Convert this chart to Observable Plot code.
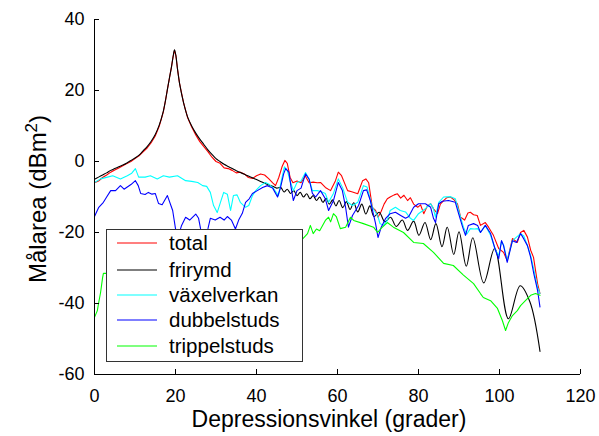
<!DOCTYPE html>
<html><head><meta charset="utf-8">
<script src="https://cdn.jsdelivr.net/npm/d3@7"></script>
<script src="https://cdn.jsdelivr.net/npm/@observablehq/plot@0.6"></script>
<style>
body{margin:0;background:#fff}
svg{font-family: Arial, "Liberation Sans", sans-serif}
</style>
</head><body><div id="chart"></div>
<script>
const seriesNames = ["total","frirymd","växelverkan","dubbelstuds","trippelstuds"];
const seriesColors = ["#ff0000","#000000","#00ffff","#0000ff","#00ff00"];
const xTicks = [0,20,40,60,80,100,120];
const yTicks = [-60,-40,-20,0,20,40];

const total = [[0,-6],[1,-5.5],[2,-4.5],[3,-3.8],[4,-3],[5,-2.4],[6,-1.8],[7,-1.2],[8,-0.6],[9,0],[10,0.8],[11,1.6],[12,2.7],[13,3.8],[14,5.3],[15,7.2],[16,10],[17,14],[17.5,17],[18,20.3],[18.5,23.5],[19,26.6],[19.4,29.5],[19.75,31.3],[20.1,29.8],[20.5,26],[21,22],[22,16.5],[23,12.3],[24,9.7],[25,7.5],[26,5.6],[27,4.2],[28,2.8],[29,1.2],[30,0],[31,-0.5],[32,-1.8],[33,-2],[34,-2.5],[35,-3.2],[36,-3],[37,-3.5],[38,-4.5],[39,-4.8],[40,-4],[41,-3.5],[42,-3.8],[43,-4.8],[44,-6],[44.7,-6.8],[45.5,-4.5],[46.3,-1.5],[47,0.3],[47.6,-0.5],[48.3,-4.5],[49,-6],[50,-5.5],[51,-6],[52,-4],[53,-6],[54,-5.8],[55,-6],[55.8,-5.9],[57,-7.3],[58.3,-8.2],[59.5,-5.4],[60.2,-3],[61,-4],[62.5,-8.2],[63.5,-8.5],[65,-9.1],[66.2,-5.4],[67,-4.9],[67.7,-6],[68.6,-12.9],[69.4,-13.8],[70,-15.7],[70.8,-14],[71.5,-12],[72.3,-10.5],[73,-10],[74,-9.4],[74.8,-9.1],[75.6,-10.3],[76.4,-9.5],[77.3,-11],[78,-10.2],[78.8,-12],[79.8,-12.9],[80.5,-12.2],[81.3,-14.7],[82.2,-12.5],[83,-11.9],[83.8,-13.5],[84.7,-14.7],[85.4,-12],[86.2,-11],[87,-10.2],[87.9,-10],[88.8,-10.8],[89.6,-11.9],[90.4,-15.7],[91.4,-16.5],[92.2,-14.5],[92.8,-14.3],[93.6,-15],[94.5,-15.2],[95.3,-18],[96.5,-17.2],[97.3,-18.5],[98.5,-20.8],[99.8,-24.5],[101,-25.6],[101.9,-27.9],[103.2,-21.7],[104.4,-22.8],[105.2,-20],[106,-19.4],[106.9,-21.3],[107.7,-25],[108.4,-27],[109.4,-34.4],[110,-37.2]];

const frirymd = [[0,-5],[1,-4.4],[2,-3.8],[3,-3.2],[4,-2.5],[5,-2],[6,-1.5],[7,-1],[8,-0.4],[9,0.3],[10,1],[11,1.8],[12,3],[13,4.2],[14,5.7],[15,7.6],[16,10.3],[17,14.2],[17.5,17],[18,20.3],[18.5,23.5],[19,26.6],[19.4,29.5],[19.75,31.5],[20.1,29.8],[20.5,26],[21,22],[22,16.5],[23,12.5],[24,10],[25,8],[26,6.3],[27,4.8],[28,3.3],[29,2],[30,0.8],[31,0],[32,-0.8],[33,-1.4],[34,-2],[35,-2.6],[36,-3.1],[37,-3.6],[38,-4.1],[39,-4.6],[40,-5.1],[41,-5.6],[42,-6.1],[43,-6.6],[44,-7],[45,-7.5],[46,-7.3],[46.8,-8.6],[47.6,-7.8],[48.4,-9],[49.2,-8.2],[50,-9.6],[50.8,-8.7],[51.6,-10],[52.4,-9.1],[53.2,-10.5],[54,-9.6],[54.8,-11],[55.6,-10],[56.4,-11.5],[57.2,-10.4],[58,-12],[58.8,-10.8],[59.6,-12.5],[60.4,-11],[61.3,-13],[62.2,-11.3],[63.1,-13.5],[64,-11.6],[65,-14.2],[66,-12],[67,-14.8],[68,-12.5],[69,-15.5],[70.3,-14.3],[71.7,-17],[73.1,-15.7],[74.5,-18.3],[76,-16.5],[77.3,-19.4],[78.8,-16.8],[80.1,-20.8],[81.6,-17.2],[83,-22],[84.3,-17.5],[85.8,-24],[87.1,-18.5],[88.7,-26.2],[90,-19.8],[91.8,-29.5],[93.4,-21.5],[96.1,-34.2],[98.8,-24.5],[102.2,-44.3],[105.1,-35],[107.5,-39.5],[110,-53.5]];

const vaxelverkan = [[0,-5.9],[1.5,-4.9],[3.2,-4.4],[4.5,-4],[6.4,-4.9],[8.1,-4],[9.2,-3.3],[10.1,-2],[10.9,-4.4],[12.5,-4.4],[13.8,-4],[15.5,-4.9],[17,-4],[18.5,-4.4],[20.5,-4],[22.5,-5.4],[24,-5.6],[25.5,-5.9],[26.7,-6.8],[27.7,-7],[28.6,-8.7],[29.4,-12.4],[30.3,-14.4],[31.1,-11.5],[31.9,-8.7],[32.8,-9.2],[33.6,-13.8],[34.3,-9.6],[35.2,-9.4],[36,-11.5],[37.3,-12.9],[38.1,-12.4],[39,-9.6],[39.8,-8.2],[41,-6.8],[42.2,-5.9],[43.2,-6.5],[44.2,-7.6],[45.4,-9.6],[46.2,-5],[46.9,-1.5],[47.6,-2.5],[48.3,-5.5],[49.1,-8.2],[50,-5.9],[51,-5.5],[52.1,-3.1],[53,-5],[53.8,-8.2],[55,-8.2],[56,-8.5],[57,-9],[57.8,-11.5],[59,-9],[60.2,-4.9],[61.3,-7.5],[62.5,-11.5],[63.7,-12.4],[65,-11.5],[66.4,-6.8],[67.3,-7.2],[68.6,-12.9],[69.9,-15.2],[70.5,-17.5],[71.4,-18],[72.3,-16.6],[73,-13.8],[74.3,-12.9],[75.5,-13.8],[76.8,-14.2],[78,-16],[78.8,-16.6],[80,-14.7],[81.7,-13.3],[83,-11.9],[83.6,-13],[84.2,-15.7],[85,-11.5],[86.2,-10],[87.9,-9.9],[89.1,-10.5],[89.9,-13.8],[91.1,-18.5],[91.9,-20.5],[92.8,-18.9],[93.8,-19],[94.6,-18.9],[95.3,-20],[96.5,-18],[97.8,-20.8],[99,-25],[99.8,-26.5],[100.5,-22.5],[101,-23.5],[101.9,-27.9],[103.2,-22.3],[105.2,-20.3],[106,-21],[106.9,-23.7],[107.7,-26.5],[108.4,-30],[109.4,-35.5],[110,-37.2]];

const dubbelstuds = [[0,-15.5],[1,-13],[2.2,-11.5],[3,-10],[4,-8.2],[5.2,-8.2],[6.4,-6.8],[7.3,-7.8],[8.1,-7.2],[9,-6.5],[10.1,-5.4],[10.8,-6.8],[11.4,-9],[12.5,-9.3],[13.3,-8.7],[14.2,-9.2],[15,-9],[15.8,-11.8],[16.7,-12.2],[18,-9.6],[19.3,-13.8],[20,-18.9],[20.7,-21],[21.5,-18],[22.5,-15.7],[23.5,-16.5],[25,-14.8],[25.7,-16],[26.2,-19],[27,-21],[28,-19],[28.6,-16],[29.8,-16.5],[31,-15.7],[32,-16.5],[32.8,-15.5],[33.8,-16.5],[34.8,-19],[35.6,-16.5],[36.5,-14.6],[37.3,-11.5],[38.2,-10.5],[39,-9],[40.2,-8.2],[41.5,-7.3],[42.7,-6.8],[44,-7.5],[45.2,-10],[45.9,-7.5],[46.7,-3.5],[47.2,-2],[48,-3],[48.5,-7],[49.1,-11],[50,-8.2],[51,-7.5],[52.1,-3.5],[53,-5],[53.8,-9],[54.6,-10],[55.8,-8.2],[57,-10.5],[57.8,-13.8],[59,-11],[60.2,-5.9],[61.2,-8.2],[62,-12.9],[62.7,-18.5],[63.7,-15.2],[65.2,-12.4],[66.4,-8.2],[67.2,-8],[68.1,-11],[69.4,-17.5],[70,-21.4],[70.8,-18.5],[71.9,-16],[73,-14.7],[74.3,-14.3],[75.6,-15.2],[76.8,-16],[77.6,-15.5],[78.8,-12.9],[80,-11.9],[81.7,-11.9],[83,-12.9],[83.7,-16],[84.2,-17.2],[85,-11.9],[85.9,-11.2],[87.4,-11],[89.1,-11.5],[89.9,-14.7],[90.9,-18.5],[91.6,-20.8],[92.3,-18],[93.6,-17.5],[94.6,-18],[95.3,-20],[96.5,-18],[97.8,-20.3],[99,-25],[99.8,-27.4],[100.5,-22.3],[101,-23.7],[101.9,-28.4],[103.2,-22.3],[104.2,-22.8],[105.2,-20.3],[106,-21.8],[106.9,-23.7],[107.7,-27],[108.4,-31.2],[109.4,-36.3],[110,-41]];

const trippelstuds = [[0,-43.9],[0.7,-42],[1,-40],[1.5,-36.9],[2,-32.7],[2.2,-31.5],[3,-31.5],[10,-30],[20,-28],[30,-26],[40,-24.5],[50,-22.5],[51.4,-21.8],[52.6,-20.3],[53.3,-18],[54,-20.3],[54.8,-19],[55.6,-19.5],[57,-16.6],[57.8,-15.7],[58.3,-17],[59,-14.7],[59.7,-15.5],[60.7,-18.9],[62,-18.5],[63.2,-15.7],[64,-16.6],[66.4,-17.5],[68.9,-18.5],[69.9,-20],[70.7,-18.9],[72.3,-17.2],[73.8,-18.5],[76.3,-20],[78.8,-22.8],[81.2,-23.1],[83.7,-25.6],[86.2,-28.7],[88.6,-29.3],[91.1,-32],[93.6,-34.4],[95.3,-37.2],[96,-38.3],[97.8,-39.2],[99.5,-41.4],[100.7,-44.8],[101.5,-47.6],[102.2,-45.4],[103.2,-43.4],[104.4,-42],[105.2,-40.6],[106.4,-39.2],[107.7,-37.7],[108.9,-37.2],[110,-37.7]];

const allSeries = [total, frirymd, vaxelverkan, dubbelstuds, trippelstuds];
const seriesCurves = ["linear", "catmull-rom", "linear", "linear", "linear"];

const plot = Plot.plot({
  width: 599, height: 436,
  marginLeft: 94, marginRight: 19, marginTop: 19, marginBottom: 62,
  style: {fontFamily: 'Arial, "Liberation Sans", sans-serif', background: "#fff"},
  x: {domain: [0, 120]},
  y: {domain: [-60, 40]},
  marks: [
    ...allSeries.map((arr, i) => Plot.line(arr, {x: d => d[0], y: d => d[1], stroke: seriesColors[i], strokeWidth: 1.1, curve: seriesCurves[i]})),
    Plot.ruleY([-60], {stroke: "#000"}),
    Plot.ruleX([0], {stroke: "#000"}),
    Plot.axisX({ticks: xTicks, tickSize: -5, tickPadding: 20, fontSize: 18, label: null, tickFormat: d => String(d)}),
    Plot.axisY({ticks: yTicks, tickSize: -5, tickPadding: 15, fontSize: 18, label: null, tickFormat: d => String(d)})
  ]
});

const svg = d3.select(plot);
svg.attr("overflow", "visible");
// axis titles
svg.append("text").attr("x", 329).attr("y", 427).attr("text-anchor", "middle")
  .attr("font-size", 23).attr("fill", "#000").text("Depressionsvinkel (grader)");
const yl = svg.append("text").attr("transform", "translate(46,199) rotate(-90)").attr("text-anchor", "middle")
  .attr("font-size", 24).attr("fill", "#000");
yl.append("tspan").text("Målarea (dBm");
yl.append("tspan").attr("baseline-shift", "super").attr("font-size", 17).text("2");
yl.append("tspan").text(")");

// legend
const lg = svg.append("g");
lg.append("rect").attr("x", 106.5).attr("y", 229.5).attr("width", 196).attr("height", 132)
  .attr("fill", "#fff").attr("stroke", "#333").attr("stroke-width", 1);
const rowY = [243, 270, 295, 320, 346];
seriesNames.forEach((name, i) => {
  lg.append("line").attr("x1", 117).attr("x2", 157).attr("y1", rowY[i]).attr("y2", rowY[i])
    .attr("stroke", seriesColors[i]).attr("stroke-width", 1.1);
  lg.append("text").attr("x", 169).attr("y", rowY[i]).attr("dy", "0.35em").attr("text-anchor", "start")
    .attr("font-size", 20.5).attr("fill", "#000").text(name);
});

document.getElementById("chart").appendChild(plot);
</script>
</body></html>
